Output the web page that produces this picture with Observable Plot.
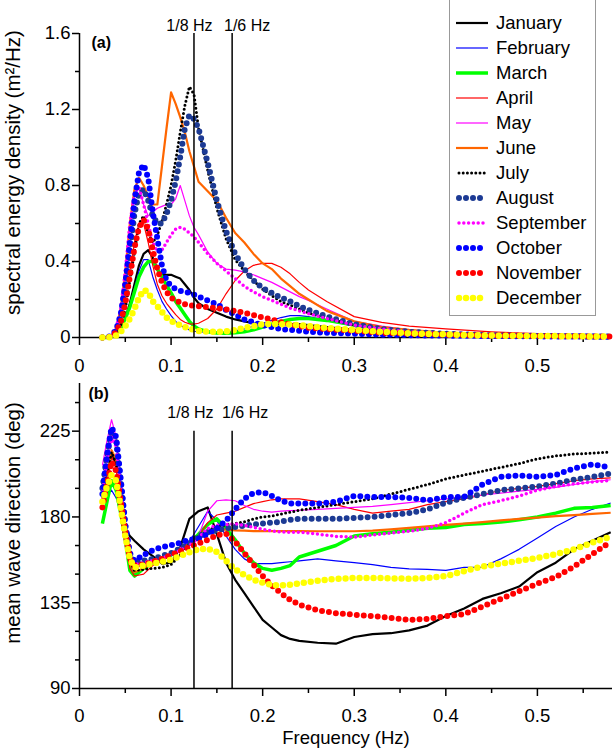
<!DOCTYPE html>
<html><head><meta charset="utf-8">
<script src="https://cdn.jsdelivr.net/npm/d3@7"></script>
<script src="https://cdn.jsdelivr.net/npm/@observablehq/plot@0.6"></script>
<style>
body{margin:0;background:#fff;font-family:"Liberation Sans",Arial,sans-serif;}
#wrap{position:relative;width:614px;height:750px;overflow:hidden;background:#fff}
#a{position:absolute;left:0;top:0}
#b{position:absolute;left:0;top:375px}
#legend{position:absolute;left:449px;top:-1px;width:145px;height:305px;padding-top:10px;border:1px solid #999;background:#fff;font-size:18.5px;color:#000}
.row{height:25px;display:flex;align-items:center}
.row svg{margin-left:6px;margin-right:8px;flex:none}
</style></head><body>
<div id="wrap"><div id="a"></div><div id="b"></div><div id="legend"></div></div>
<script>
const months = ["January","February","March","April","May","June","July","August","September","October","November","December"];

// Panel (a): spectral energy density (m^2/Hz)
const freqA = [0.025,0.03,0.035,0.04,0.045,0.05,0.055,0.06,0.065,0.07,0.075,0.08,0.085,0.09,0.095,0.1,0.105,0.11,0.115,0.12,0.125,0.13,0.14,0.15,0.16,0.17,0.18,0.19,0.2,0.21,0.22,0.23,0.24,0.25,0.27,0.3,0.33,0.36,0.4,0.45,0.5,0.55,0.58];
const eJan = [0,0,0.005,0.02,0.05,0.1,0.18,0.28,0.38,0.44,0.46,0.42,0.36,0.33,0.33,0.33,0.32,0.31,0.28,0.25,0.21,0.18,0.15,0.13,0.11,0.095,0.085,0.075,0.07,0.07,0.07,0.07,0.07,0.065,0.055,0.04,0.03,0.022,0.016,0.01,0.008,0.006,0.005];
const eFeb = [0,0,0.005,0.02,0.05,0.1,0.17,0.26,0.35,0.41,0.41,0.32,0.25,0.19,0.15,0.115,0.085,0.065,0.05,0.04,0.033,0.03,0.028,0.028,0.03,0.035,0.045,0.06,0.075,0.09,0.105,0.115,0.115,0.11,0.09,0.06,0.04,0.03,0.02,0.012,0.008,0.006,0.005];
const eMar = [0,0,0.005,0.02,0.05,0.1,0.16,0.24,0.32,0.37,0.4,0.4,0.36,0.32,0.275,0.235,0.19,0.155,0.12,0.085,0.06,0.045,0.03,0.024,0.022,0.025,0.03,0.04,0.055,0.07,0.085,0.095,0.1,0.1,0.09,0.065,0.045,0.032,0.02,0.012,0.008,0.006,0.005];
const eApr = [0,0,0.005,0.03,0.08,0.2,0.35,0.5,0.6,0.6,0.5,0.38,0.28,0.22,0.18,0.15,0.12,0.095,0.08,0.072,0.07,0.075,0.1,0.15,0.23,0.3,0.35,0.38,0.39,0.39,0.37,0.335,0.29,0.25,0.19,0.11,0.08,0.06,0.045,0.03,0.02,0.012,0.01];
const eMay = [0,0,0.01,0.05,0.15,0.35,0.58,0.75,0.79,0.7,0.64,0.66,0.68,0.69,0.7,0.7,0.73,0.8,0.72,0.64,0.58,0.54,0.45,0.39,0.36,0.355,0.345,0.33,0.31,0.29,0.265,0.24,0.215,0.195,0.15,0.085,0.06,0.04,0.025,0.015,0.01,0.007,0.005];
const eJun = [0,0,0.01,0.05,0.15,0.35,0.6,0.78,0.84,0.8,0.74,0.7,0.7,0.9,1.1,1.29,1.23,1.16,1.08,0.98,0.9,0.82,0.77,0.72,0.63,0.55,0.5,0.44,0.39,0.36,0.31,0.27,0.23,0.2,0.14,0.085,0.055,0.04,0.025,0.015,0.01,0.007,0.005];
const eJul = [0,0,0.005,0.02,0.06,0.15,0.3,0.45,0.6,0.64,0.55,0.5,0.54,0.61,0.7,0.8,0.93,1.08,1.22,1.32,1.28,1.1,0.88,0.68,0.52,0.41,0.35,0.3,0.255,0.22,0.19,0.17,0.15,0.13,0.1,0.065,0.042,0.028,0.018,0.011,0.008,0.006,0.005];
const eAug = [0,0,0.005,0.03,0.1,0.25,0.45,0.65,0.76,0.78,0.72,0.64,0.6,0.6,0.65,0.72,0.82,0.95,1.1,1.17,1.15,1.1,0.92,0.72,0.56,0.44,0.36,0.3,0.26,0.235,0.21,0.19,0.165,0.145,0.11,0.07,0.045,0.03,0.02,0.012,0.008,0.006,0.005];
const eSep = [0,0,0.01,0.05,0.15,0.35,0.6,0.76,0.79,0.7,0.6,0.5,0.45,0.46,0.5,0.54,0.57,0.58,0.57,0.55,0.53,0.5,0.44,0.39,0.35,0.31,0.27,0.24,0.215,0.195,0.175,0.155,0.14,0.125,0.1,0.065,0.045,0.03,0.02,0.012,0.008,0.006,0.005];
const eOct = [0,0,0.01,0.04,0.12,0.28,0.5,0.72,0.87,0.91,0.84,0.66,0.52,0.38,0.3,0.27,0.255,0.245,0.24,0.235,0.225,0.215,0.195,0.175,0.145,0.12,0.095,0.08,0.065,0.055,0.045,0.04,0.035,0.03,0.025,0.02,0.015,0.012,0.01,0.008,0.006,0.005,0.004];
const eNov = [0,0,0.005,0.03,0.08,0.18,0.32,0.47,0.58,0.62,0.57,0.46,0.36,0.29,0.24,0.21,0.195,0.185,0.175,0.17,0.168,0.165,0.16,0.155,0.148,0.14,0.13,0.118,0.105,0.095,0.08,0.07,0.06,0.052,0.045,0.035,0.025,0.02,0.015,0.01,0.008,0.006,0.005];
const eDec = [0,0,0.002,0.01,0.03,0.06,0.1,0.15,0.21,0.25,0.24,0.19,0.165,0.135,0.105,0.088,0.074,0.065,0.056,0.047,0.04,0.035,0.03,0.03,0.032,0.04,0.05,0.06,0.07,0.072,0.07,0.068,0.065,0.06,0.05,0.04,0.03,0.022,0.016,0.01,0.008,0.006,0.005];

// Panel (b): mean wave direction (deg)
const freqB = [0.025,0.03,0.035,0.04,0.045,0.05,0.055,0.06,0.07,0.08,0.09,0.1,0.11,0.12,0.13,0.14,0.15,0.16,0.17,0.18,0.19,0.2,0.21,0.22,0.23,0.24,0.26,0.28,0.3,0.32,0.34,0.36,0.38,0.4,0.42,0.44,0.46,0.48,0.5,0.52,0.54,0.56,0.58];
const dJan = [190,200,213,208,190,174,170,167.5,163,159.5,155.5,156,164,179,183,185,171,156,147,140,133,126,122,118,116,115,114,113.5,117,118.5,119,120.5,123,128,132,137,140,143.5,151,156,163,167.5,172];
const dFeb = [190,192,194,190,182,170,155,150,153,156,158,160,163,167,175,183,178,170,163,158,155.5,155.5,155.5,156,156.5,157,158,157,156,155,153.5,152.8,152.5,152,153.5,153.7,158,163,169,175,180,184,187.3];
const dMar = [176.5,188,199,194,182,168,152,149,153,156,158,160,163,166,171,176,179,174,168,161,156,153,152,153,154.5,159,162,165,170,171.2,172,173,174,174.5,176,176.5,177.3,178.5,180,182,184.5,185,186];
const dApr = [186,198,212,205,188,170,153,149,150,154.5,157,160,162.5,167,170,177,181,182,183,185,187,188,189,189.5,189.5,189.5,188,186.5,184,182,183,184,186.5,188,189.5,191.5,194,195,196,197.5,199,200,200.5];
const dMay = [207,220,231,222,198,175,158,153,155,157,159,161,164,167,170,183,188.5,189,188.5,186,184,183,182.5,183,183.3,183.5,184,184.5,185,185.5,186.5,187.5,188.5,189.5,190.5,191.5,192.5,193.5,194.5,195.5,197,198.5,199.5];
const dJun = [190,200,215,210,192,172,156,151,153,156,158,160,163,166,169,171,173,173.5,173,172.8,172.6,172.6,172.6,172.6,172.6,172.6,172.5,172.5,172.5,172.8,173.5,174.3,175,175.8,176.5,177.3,178.2,179,179.6,180.4,181,181.6,182.2];
const dJul = [192,203,214,208,190,173,157,152,152.5,153,153.5,155,160,166,170,173,174.7,176,176.5,177.5,179,180,180.5,181.5,182.5,183.5,185,186.5,188,189.5,192,194.5,197,200,202,204,206,208,210.5,212,213,213.5,214];
const dAug = [195,212,225,220,198,175,160,156,157,158,159.5,161,163.5,166,170,172,173,174,174.7,175.5,176,176.5,177,177.5,178.5,179,179,179,179.5,180,181,182,184,187.5,190,192,194,195,196,197.5,199.5,201,202.7];
const dSep = [192,210,222,217,196,174,158,155,156,157,158.5,160,162.5,165,169,174,175.6,176,176.5,175.5,174.5,173.5,172.7,172.1,172,172,171,169.8,169.4,170.5,171.5,172.5,174,177,182,186.5,188.5,191,194,196,197.3,198.3,199.2];
const dOct = [192,212,227,222,200,176,161,157,160,162.5,164.2,165.1,166.5,168,168.6,171,174,178,184,189.5,192.5,193,191,188.5,187,187,187,188,191,190.5,190.5,190,188.7,190.4,190.5,197,201,201.8,201,202,205.5,207.5,206];
const dNov = [185,197,209,204,188,172,158,154.6,155,156.5,158,160,162,164.2,166,168,170.4,171.2,167,161,155,149,144,140,136.5,134,131,129.5,128.7,128,127,126,126.5,128,129,133,137,141,145,148.5,154,160.5,167];
const dDec = [188,196,202,199,185,170,158,153.5,154.5,155.5,156.5,157.5,159.5,161.5,163,163.4,161.6,157,152.5,149.5,147,145.5,144.3,144.1,144.5,145.2,146.5,147.5,148,148,147.8,147.6,148,149,151.5,154,155.5,157,158.5,160.5,163,166.5,169.6];

// Axis ticks and annotations
const xTicks = [0, 0.1, 0.2, 0.3, 0.4, 0.5];
const xMinor = [0.05, 0.15, 0.25, 0.35, 0.45, 0.55];
const yTicksA = [0, 0.4, 0.8, 1.2, 1.6];
const yMinorA = [0.2, 0.6, 1.0, 1.4];
const yTicksB = [90, 135, 180, 225];
const yMinorB = [105, 120, 150, 165, 195, 210, 240];
const periodFreqs = [1/8, 1/6];
const periodLabels = ["1/8 Hz", "1/6 Hz"];
const ruleTopB = 225;

const energy = [eJan,eFeb,eMar,eApr,eMay,eJun,eJul,eAug,eSep,eOct,eNov,eDec];
const direction = [dJan,dFeb,dMar,dApr,dMay,dJun,dJul,dAug,dSep,dOct,dNov,dDec];

// Styles (not data)
const styles = [
  {stroke:"#000000", w:2.2, dash:null},
  {stroke:"#0000ff", w:1.2, dash:null},
  {stroke:"#00ff00", w:3.5, dash:null},
  {stroke:"#ff0000", w:1.2, dash:null},
  {stroke:"#ff00ff", w:1.2, dash:null},
  {stroke:"#ff6600", w:2.2, dash:null},
  {stroke:"#000000", w:3, dash:"0,4.2"},
  {stroke:"#1c3a94", w:6, dash:"0,7"},
  {stroke:"#ff00ff", w:3.5, dash:"0,4.8"},
  {stroke:"#0000ff", w:6, dash:"0,7"},
  {stroke:"#ff0000", w:6, dash:"0,7"},
  {stroke:"#ffff00", w:6.5, dash:"0,7"}
];

function rows(freqs, arrs){
  return months.map((m,i) => freqs.map((f,j) => ({month:m, f, v: arrs[i][j]})));
}
const rowsA = rows(freqA, energy);
const rowsB = rows(freqB, direction);

function lineMarks(rs){
  return rs.map((r,i) => Plot.line(r, {x:"f", y:"v", stroke: styles[i].stroke, strokeWidth: styles[i].w,
    strokeDasharray: styles[i].dash || undefined, strokeLinecap: styles[i].dash ? "round" : "butt", strokeLinejoin: "round"}));
}

const font = "Liberation Sans, Arial, sans-serif";
const common = {
  width: 614, height: 375, marginLeft: 79, marginRight: 2,
  style: {fontFamily: font, fontSize: "18px", color: "black", background: "white", overflow: "visible"},
  x: {domain: [0, 0.582]}
};

const plotA = Plot.plot({
  ...common, marginTop: 33, marginBottom: 38,
  y: {domain: [0, 1.6]},
  marks: [
    Plot.axisX({ticks: xTicks, tickFormat: d => String(d), tickSize: 8, tickPadding: 13, strokeWidth: 1.5, fontSize: 18.5, label: null}),
    Plot.axisX({ticks: xMinor, tickFormat: () => "", tickSize: 5, strokeWidth: 1.5, label: null}),
    Plot.axisY({ticks: yTicksA, tickFormat: d => String(d), tickSize: 7, tickPadding: 2, strokeWidth: 1.5, fontSize: 18.5, label: null}),
    Plot.axisY({ticks: yMinorA, tickFormat: () => "", tickSize: 4, strokeWidth: 1.5, label: null}),
    Plot.ruleX([0], {strokeWidth: 1.5}),
    Plot.ruleY([0], {strokeWidth: 1.5}),
    Plot.text(["spectral energy density (m²/Hz)"], {frameAnchor: "left", rotate: -90, dx: -74, dy: -13, lineAnchor: "top", textAnchor: "middle", fontSize: 20.5}),
    ...lineMarks(rowsA),
    Plot.ruleX(periodFreqs, {stroke: "black", strokeWidth: 1.5}),
    Plot.text([periodLabels[0]], {x: () => periodFreqs[0], frameAnchor: "top", dy: -14, dx: -4.5, fontSize: 16}),
    Plot.text([periodLabels[1]], {x: () => periodFreqs[1], frameAnchor: "top", dy: -14, dx: 15, fontSize: 16}),
    Plot.text(["(a)"], {frameAnchor: "top-left", dx: 12, dy: 3, fontWeight: "bold", fontSize: 16})
  ]
});

const plotB = Plot.plot({
  ...common, marginTop: 8, marginBottom: 62,
  y: {domain: [90, 250]},
  marks: [
    Plot.axisX({ticks: xTicks, tickFormat: d => String(d), tickSize: 8, tickPadding: 12, strokeWidth: 1.5, fontSize: 18.5,
      label: "Frequency (Hz)", labelAnchor: "center", labelOffset: 55, labelArrow: "none"}),
    Plot.axisX({ticks: xMinor, tickFormat: () => "", tickSize: 5, strokeWidth: 1.5, label: null}),
    Plot.axisY({ticks: yTicksB, tickFormat: d => String(d), tickSize: 7, tickPadding: 2, strokeWidth: 1.5, fontSize: 18.5, label: null}),
    Plot.axisY({ticks: yMinorB, tickFormat: () => "", tickSize: 4, strokeWidth: 1.5, label: null}),
    Plot.ruleX([0], {strokeWidth: 1.5}),
    Plot.ruleY([90], {strokeWidth: 1.5}),
    Plot.text(["mean wave direction (deg)"], {frameAnchor: "left", rotate: -90, dx: -74, dy: -13, lineAnchor: "top", textAnchor: "middle", fontSize: 20.5}),
    ...lineMarks(rowsB),
    Plot.ruleX(periodFreqs, {y1: 90, y2: ruleTopB, stroke: "black", strokeWidth: 1.5}),
    Plot.text([periodLabels[0]], {x: () => periodFreqs[0], y: () => ruleTopB, dy: -18, dx: -3.5, fontSize: 16}),
    Plot.text([periodLabels[1]], {x: () => periodFreqs[1], y: () => ruleTopB, dy: -18, dx: 13, fontSize: 16}),
    Plot.text(["(b)"], {frameAnchor: "top-left", dx: 9, dy: 4, fontWeight: "bold", fontSize: 16})
  ]
});

document.getElementById("a").appendChild(plotA);
document.getElementById("b").appendChild(plotB);

// Legend
const legend = document.getElementById("legend");
months.forEach((m, i) => {
  const s = styles[i];
  const row = document.createElement("div");
  row.className = "row";
  const dash = s.dash ? `stroke-dasharray="${s.dash}" stroke-linecap="round"` : "";
  row.innerHTML = `<svg width="32" height="12"><line x1="${s.dash ? 3 : 0}" x2="${s.dash ? 29 : 32}" y1="6" y2="6" stroke="${s.stroke}" stroke-width="${s.w}" ${dash}/></svg><span>${m}</span>`;
  legend.appendChild(row);
});
</script>
</body></html>
